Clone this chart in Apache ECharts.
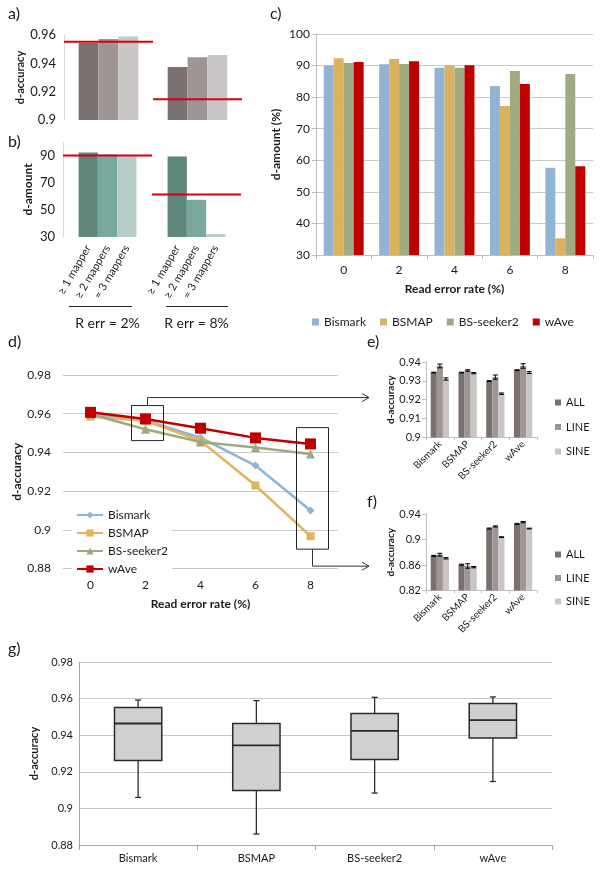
<!DOCTYPE html>
<html><head><meta charset="utf-8">
<script src="https://cdn.jsdelivr.net/npm/echarts@6/dist/echarts.min.js"></script>
<style>html,body{margin:0;padding:0;background:#fff}#chart{width:600px;height:876px}</style>
</head><body><div id="chart"></div>
<script>
// ---------- data ----------
const rerrCats = ['R err = 2%', 'R err = 8%'];
const mapperNames = ['≥ 1 mapper', '≥ 2 mappers', '= 3 mappers'];
const accMapper1 = [0.9546, 0.9374];
const accMapper2 = [0.9572, 0.9443];
const accMapper3 = [0.9590, 0.9459];
const accRef = [0.9553, 0.9146];
const amtMapper1 = [92.2, 89.3];
const amtMapper2 = [90.7, 57.4];
const amtMapper3 = [89.5, 32.2];
const amtRef = [90.0, 61.4];

const errRates = ['0', '2', '4', '6', '8'];
const tools = ['Bismark', 'BSMAP', 'BS-seeker2', 'wAve'];
const amtBismark = [90.0, 90.4, 89.3, 83.5, 57.6];
const amtBSMAP = [92.3, 92.1, 90.0, 77.2, 35.3];
const amtSeeker = [90.8, 90.5, 89.3, 88.3, 87.3];
const amtWAve = [91.1, 91.4, 90.1, 84.2, 58.1];

const accBismark = [0.9595, 0.9565, 0.9476, 0.9332, 0.9100];
const accBSMAP = [0.9585, 0.9563, 0.9460, 0.9229, 0.8967];
const accSeeker = [0.9597, 0.9520, 0.9454, 0.9425, 0.9392];
const accWAve = [0.9607, 0.9573, 0.9525, 0.9475, 0.9444];

const simTypes = ['ALL', 'LINE', 'SINE'];
const eAll = [0.9344, 0.9344, 0.9299, 0.9357];
const eLine = [0.9379, 0.9355, 0.9320, 0.9379];
const eSine = [0.9310, 0.9341, 0.9232, 0.9344];
const eAllErr = [0.0002, 0.0002, 0.0002, 0.0002];
const eLineErr = [0.0010, 0.0004, 0.0011, 0.0012];
const eSineErr = [0.0006, 0.0003, 0.0004, 0.0005];
const fAll = [0.8744, 0.8605, 0.9172, 0.9245];
const fLine = [0.8762, 0.8585, 0.9205, 0.9272];
const fSine = [0.8705, 0.8566, 0.9037, 0.9172];
const fAllErr = [0.0008, 0.0008, 0.0008, 0.0008];
const fLineErr = [0.0022, 0.0035, 0.0008, 0.0010];
const fSineErr = [0.0010, 0.0010, 0.0006, 0.0006];

const boxMin = [0.9060, 0.8860, 0.9084, 0.9147];
const boxQ1 = [0.9262, 0.9098, 0.9267, 0.9385];
const boxMed = [0.9464, 0.9344, 0.9424, 0.9482];
const boxQ3 = [0.9551, 0.9464, 0.9518, 0.9573];
const boxMax = [0.9592, 0.9589, 0.9607, 0.9609];

// ---------- styling ----------
const FONT = 'Lato, "Liberation Sans", sans-serif';
const TXT = '#1a1a1a';
const AX = '#bfbfbf';
const GRIDC = '#c9c9c9';
const accColors = ['#7b7070', '#9f9595', '#cbc6c6'];
const amtColors = ['#5f877c', '#7aa89d', '#b8cec8'];
const toolColors = ['#92b4d4', '#dcb25f', '#a0ab82', '#c00000'];
const lineColors = ['#8eb4d8', '#e2b35c', '#9caa7f', '#c00000'];
const simColors = ['#7b7070', '#9f9595', '#cbc6c6'];
const RED = '#d60010';

const chart = echarts.init(document.getElementById('chart'), null, {renderer: 'canvas'});

function valAxis(gi, min, max, interval, extra) {
  return Object.assign({
    type: 'value', gridIndex: gi, min, max, interval,
    axisLine: {show: true, lineStyle: {color: AX}},
    axisTick: {show: true, length: 4, lineStyle: {color: AX}},
    axisLabel: {fontSize: 12, color: TXT, fontFamily: FONT, margin: 6},
    splitLine: {show: false},
    nameLocation: 'middle', nameRotate: 90,
    nameTextStyle: {fontWeight: 'bold', fontSize: 12, color: TXT, fontFamily: FONT}
  }, extra || {});
}

function refLine(xi, yi, vals) {
  return {
    type: 'custom', xAxisIndex: xi, yAxisIndex: yi, z: 5, silent: true,
    data: vals.map((v, i) => [i, v]),
    renderItem: (p, api) => {
      const c = api.coord([api.value(0), api.value(1)]);
      const bw = api.size([1, 0])[0];
      return {type: 'line', shape: {x1: c[0] - bw / 2, y1: c[1], x2: c[0] + bw / 2, y2: c[1]},
        style: {stroke: RED, lineWidth: 2}};
    }
  };
}

function errBars(xi, yi, means, errs, gap) {
  const data = [];
  means.forEach((arr, k) => arr.forEach((v, i) => data.push([i, v, errs[k][i], k])));
  return {
    type: 'custom', xAxisIndex: xi, yAxisIndex: yi, z: 5, silent: true,
    encode: {x: 0, y: 1},
    data,
    renderItem: (p, api) => {
      const cat = api.value(0), v = api.value(1), e = api.value(2), k = api.value(3);
      const c = api.coord([cat, v]);
      const bw = api.size([1, 0])[0];
      const barW = bw * (1 - gap) / 3;
      const x = c[0] + (k - 1) * barW;
      const yt = api.coord([cat, v + e])[1], yb = api.coord([cat, v - e])[1];
      const st = {stroke: '#000', lineWidth: 1};
      return {type: 'group', children: [
        {type: 'line', shape: {x1: x, y1: yt, x2: x, y2: yb}, style: st},
        {type: 'line', shape: {x1: x - 2.5, y1: yt, x2: x + 2.5, y2: yt}, style: st},
        {type: 'line', shape: {x1: x - 2.5, y1: yb, x2: x + 2.5, y2: yb}, style: st}
      ]};
    }
  };
}

const series = [];
// panel a
[accMapper1, accMapper2, accMapper3].forEach((d, k) => series.push({
  type: 'bar', name: mapperNames[k], xAxisIndex: 0, yAxisIndex: 0, data: d,
  itemStyle: {color: accColors[k]}, barGap: 0, barCategoryGap: '33%'
}));
series.push(refLine(0, 0, accRef));
// panel b
[amtMapper1, amtMapper2, amtMapper3].forEach((d, k) => series.push({
  type: 'bar', name: mapperNames[k], xAxisIndex: 1, yAxisIndex: 1, data: d,
  itemStyle: {color: amtColors[k]}, barGap: 0, barCategoryGap: '35%',
  label: {show: true, position: 'bottom', distance: 9, rotate: 60, align: 'right', verticalAlign: 'middle',
    formatter: '{a}', fontSize: 11, color: TXT, fontFamily: FONT}
}));
series.push(refLine(1, 1, amtRef));
// panel c
[amtBismark, amtBSMAP, amtSeeker, amtWAve].forEach((d, k) => series.push({
  type: 'bar', name: tools[k], xAxisIndex: 2, yAxisIndex: 2, data: d,
  itemStyle: {color: toolColors[k]}, barGap: 0, barCategoryGap: '28%'
}));
// panel d
const symbols = [['diamond', 8], ['rect', 8], ['triangle', 9], ['rect', 11]];
[accBismark, accBSMAP, accSeeker, accWAve].forEach((d, k) => series.push({
  type: 'line', name: 'd|' + tools[k], xAxisIndex: 3, yAxisIndex: 3, data: d,
  symbol: symbols[k][0], symbolSize: symbols[k][1], showAllSymbol: true,
  lineStyle: {color: lineColors[k], width: 2.5}, itemStyle: {color: lineColors[k]}, z: 3 + k
}));
// panel e
const gapEF = 0.34;
[eAll, eLine, eSine].forEach((d, k) => series.push({
  type: 'bar', name: 'e|' + simTypes[k], xAxisIndex: 4, yAxisIndex: 4, data: d,
  itemStyle: {color: simColors[k]}, barGap: 0, barCategoryGap: (gapEF * 100) + '%'
}));
series.push(errBars(4, 4, [eAll, eLine, eSine], [eAllErr, eLineErr, eSineErr], gapEF));
// panel f
[fAll, fLine, fSine].forEach((d, k) => series.push({
  type: 'bar', name: 'f|' + simTypes[k], xAxisIndex: 5, yAxisIndex: 5, data: d,
  itemStyle: {color: simColors[k]}, barGap: 0, barCategoryGap: (gapEF * 100) + '%'
}));
series.push(errBars(5, 5, [fAll, fLine, fSine], [fAllErr, fLineErr, fSineErr], gapEF));
// panel g
series.push({
  type: 'custom', name: 'box', xAxisIndex: 6, yAxisIndex: 6, silent: true,
  encode: {x: 0, y: [1, 2, 3, 4, 5]},
  data: tools.map((t, i) => [i, boxMin[i], boxQ1[i], boxMed[i], boxQ3[i], boxMax[i]]),
  renderItem: (p, api) => {
    const i = api.value(0);
    const x = api.coord([i, api.value(1)])[0];
    const y = k => api.coord([i, api.value(k)])[1];
    const yMin = y(1), yQ1 = y(2), yMed = y(3), yQ3 = y(4), yMax = y(5);
    const hw = api.size([1, 0])[0] * 0.2;
    const st = {stroke: '#2b2b2b', lineWidth: 1.3};
    return {type: 'group', children: [
      {type: 'line', shape: {x1: x, y1: yMax, x2: x, y2: yQ3}, style: st},
      {type: 'line', shape: {x1: x, y1: yQ1, x2: x, y2: yMin}, style: st},
      {type: 'line', shape: {x1: x - 3, y1: yMax, x2: x + 3, y2: yMax}, style: st},
      {type: 'line', shape: {x1: x - 3, y1: yMin, x2: x + 3, y2: yMin}, style: st},
      {type: 'rect', shape: {x: x - hw, y: yQ3, width: 2 * hw, height: yQ1 - yQ3}, style: {fill: '#d0d0d0', stroke: '#2b2b2b', lineWidth: 1.5}},
      {type: 'line', shape: {x1: x - hw, y1: yMed, x2: x + hw, y2: yMed}, style: {stroke: '#2b2b2b', lineWidth: 1.8}}
    ]};
  }
});

const option = {
  backgroundColor: '#fff',
  animation: false,
  textStyle: {fontFamily: FONT},
  grid: [
    {left: 64, top: 35, width: 178, height: 85},
    {left: 63, top: 142, width: 178, height: 95},
    {left: 316, top: 34, width: 277, height: 221},
    {left: 63, top: 375, width: 275, height: 193.5},
    {left: 426, top: 362, width: 111, height: 75.5},
    {left: 426, top: 514, width: 111, height: 76.5},
    {left: 79, top: 662, width: 473, height: 183}
  ],
  xAxis: [
    {gridIndex: 0, type: 'category', data: rerrCats, axisLine: {show: false}, axisTick: {show: false}, axisLabel: {show: false}},
    {gridIndex: 1, type: 'category', data: rerrCats, axisLine: {show: false}, axisTick: {show: false},
      axisLabel: {show: true, margin: 79, fontSize: 14, color: TXT, fontFamily: FONT}},
    {gridIndex: 2, type: 'category', data: errRates, axisLine: {lineStyle: {color: AX}},
      axisTick: {show: true, length: 4, lineStyle: {color: AX}},
      axisLabel: {fontSize: 12, color: TXT, margin: 9, fontFamily: FONT},
      name: 'Read error rate (%)', nameLocation: 'middle', nameGap: 28,
      nameTextStyle: {fontWeight: 'bold', fontSize: 12, color: TXT, fontFamily: FONT}},
    {gridIndex: 3, type: 'category', data: errRates, boundaryGap: true, axisLine: {show: false}, axisTick: {show: false},
      axisLabel: {fontSize: 12, color: TXT, margin: 11, fontFamily: FONT},
      name: 'Read error rate (%)', nameLocation: 'middle', nameGap: 30,
      nameTextStyle: {fontWeight: 'bold', fontSize: 12, color: TXT, fontFamily: FONT}},
    {gridIndex: 4, type: 'category', data: tools, axisLine: {lineStyle: {color: AX}},
      axisTick: {show: true, length: 3, lineStyle: {color: AX}},
      axisLabel: {rotate: 45, interval: 0, fontSize: 10, color: TXT, margin: 5, fontFamily: FONT}},
    {gridIndex: 5, type: 'category', data: tools, axisLine: {lineStyle: {color: AX}},
      axisTick: {show: true, length: 3, lineStyle: {color: AX}},
      axisLabel: {rotate: 45, interval: 0, fontSize: 10, color: TXT, margin: 5, fontFamily: FONT}},
    {gridIndex: 6, type: 'category', data: tools, axisLine: {lineStyle: {color: '#a6a6a6'}},
      axisTick: {show: true, length: 5, lineStyle: {color: '#a6a6a6'}},
      axisLabel: {fontSize: 11, color: TXT, margin: 8, fontFamily: FONT}}
  ],
  yAxis: [
    valAxis(0, 0.9, 0.96, 0.02, {axisLabel: {fontSize: 13, color: TXT, margin: 8, fontFamily: FONT},
      axisLine: {show: true, lineStyle: {color: '#d9d9d9'}}, axisTick: {length: 4, lineStyle: {color: '#d9d9d9'}},
      name: 'd-accuracy', nameGap: 38, nameTextStyle: {fontWeight: 'bold', fontSize: 11, color: TXT, fontFamily: FONT}}),
    valAxis(1, 30, 100, 20, {axisLabel: {fontSize: 13, color: TXT, margin: 8, showMaxLabel: false, fontFamily: FONT},
      axisLine: {show: true, lineStyle: {color: '#d9d9d9'}}, axisTick: {length: 4, lineStyle: {color: '#d9d9d9'}},
      name: 'd-amount', nameGap: 29, nameTextStyle: {fontWeight: 'bold', fontSize: 12, color: TXT, fontFamily: FONT}}),
    valAxis(2, 30, 100, 10, {splitLine: {show: true, lineStyle: {color: GRIDC}},
      name: 'd-amount (%)', nameGap: 34}),
    valAxis(3, 0.88, 0.98, 0.02, {axisLine: {show: false}, axisTick: {show: false},
      axisLabel: {fontSize: 12, color: TXT, margin: 12, fontFamily: FONT},
      splitLine: {show: true, lineStyle: {color: GRIDC}}, name: 'd-accuracy', nameGap: 36}),
    valAxis(4, 0.9, 0.94, 0.01, {axisLabel: {fontSize: 11, color: TXT, margin: 5, fontFamily: FONT},
      name: 'd-accuracy', nameGap: 30, nameTextStyle: {fontWeight: 'bold', fontSize: 10, color: TXT, fontFamily: FONT}}),
    valAxis(5, 0.82, 0.94, 0.04, {axisLabel: {fontSize: 11, color: TXT, margin: 5, fontFamily: FONT},
      name: 'd-accuracy', nameGap: 30, nameTextStyle: {fontWeight: 'bold', fontSize: 10, color: TXT, fontFamily: FONT}}),
    valAxis(6, 0.88, 0.98, 0.02, {axisLine: {show: true, lineStyle: {color: '#a6a6a6'}},
      axisTick: {length: 4, lineStyle: {color: '#a6a6a6'}},
      axisLabel: {fontSize: 11, color: TXT, margin: 6, fontFamily: FONT},
      splitLine: {show: true, lineStyle: {color: GRIDC}}, name: 'd-accuracy', nameGap: 33,
      nameTextStyle: {fontWeight: 'bold', fontSize: 11, color: TXT, fontFamily: FONT}})
  ],
  legend: [
    {data: tools, left: 312, top: 316, padding: 0, icon: 'rect', itemWidth: 7, itemHeight: 7, itemGap: 14,
      textStyle: {fontSize: 12, color: TXT, fontFamily: FONT}},
    {data: tools.map(t => 'd|' + t), formatter: n => n.slice(2), orient: 'vertical', left: 72, top: 507,
      padding: [2, 4], backgroundColor: '#fff', itemWidth: 26, itemHeight: 9, itemGap: 6,
      textStyle: {fontSize: 12, color: TXT, fontFamily: FONT}},
    {data: simTypes.map(t => 'e|' + t), formatter: n => n.slice(2), orient: 'vertical', left: 555, top: 397,
      padding: 0, icon: 'rect', itemWidth: 6, itemHeight: 6, itemGap: 13.5,
      textStyle: {fontSize: 11, color: TXT, fontFamily: FONT}},
    {data: simTypes.map(t => 'f|' + t), formatter: n => n.slice(2), orient: 'vertical', left: 555, top: 549,
      padding: 0, icon: 'rect', itemWidth: 6, itemHeight: 6, itemGap: 12.5,
      textStyle: {fontSize: 11, color: TXT, fontFamily: FONT}}
  ],
  series
};
chart.setOption(option);

// ---------- annotations (panel letters, group separators, zoom boxes & arrows) ----------
const letters = [['a)', 8, 6], ['b)', 8, 134], ['c)', 270, 6], ['d)', 8, 334], ['e)', 367, 334], ['f)', 367, 494], ['g)', 8, 641]];
const graphic = letters.map(([t, x, y]) => ({type: 'text', left: x, top: y, style: {text: t, fontSize: 16, fill: TXT, fontFamily: FONT}}));
// separators under the b) groups
[[69, 132], [166, 228]].forEach(([x1, x2]) => graphic.push({type: 'line', shape: {x1, y1: 306.5, x2, y2: 306.5}, style: {stroke: '#222', lineWidth: 1}}));
// zoom boxes in d)
const zoomBoxes = [{cat: 1, lo: 0.9461, hi: 0.9642, dir: 'up'}, {cat: 4, lo: 0.8900, hi: 0.9528, dir: 'down'}];
const arrowEndX = 369;
zoomBoxes.forEach(b => {
  const pHi = chart.convertToPixel({xAxisIndex: 3, yAxisIndex: 3}, [b.cat, b.hi]);
  const pLo = chart.convertToPixel({xAxisIndex: 3, yAxisIndex: 3}, [b.cat, b.lo]);
  const cx = pHi[0] + 2;
  graphic.push({type: 'rect', shape: {x: cx - 16, y: pHi[1], width: 32, height: pLo[1] - pHi[1]},
    style: {fill: 'none', stroke: '#222', lineWidth: 1}, z: 20});
  const yTurn = b.dir === 'up' ? pHi[1] - 8 : pLo[1] + 17;
  const yStart = b.dir === 'up' ? pHi[1] : pLo[1];
  graphic.push({type: 'polyline', shape: {points: [[cx, yStart], [cx, yTurn], [arrowEndX, yTurn]]},
    style: {stroke: '#333', lineWidth: 1, fill: 'none'}, z: 20});
  graphic.push({type: 'polyline', shape: {points: [[arrowEndX - 7, yTurn - 4], [arrowEndX, yTurn], [arrowEndX - 7, yTurn + 4]]},
    style: {stroke: '#333', lineWidth: 1, fill: 'none'}, z: 20});
});
chart.setOption({graphic});
</script></body></html>
